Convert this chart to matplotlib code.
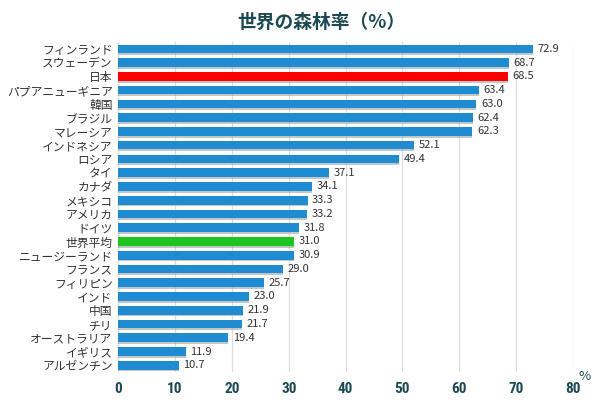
import matplotlib
matplotlib.use("Agg")
import matplotlib.pyplot as plt

plt.rcParams['font.family'] = ['Noto Sans CJK JP', 'DejaVu Sans']

countries = ['フィンランド', 'スウェーデン', '日本', 'パプアニューギニア', '韓国', 'ブラジル',
             'マレーシア', 'インドネシア', 'ロシア', 'タイ', 'カナダ', 'メキシコ', 'アメリカ',
             'ドイツ', '世界平均', 'ニュージーランド', 'フランス', 'フィリピン', 'インド',
             '中国', 'チリ', 'オーストラリア', 'イギリス', 'アルゼンチン']
rates = [72.9, 68.7, 68.5, 63.4, 63.0, 62.4, 62.3, 52.1, 49.4, 37.1, 34.1, 33.3, 33.2,
         31.8, 31.0, 30.9, 29.0, 25.7, 23.0, 21.9, 21.7, 19.4, 11.9, 10.7]
x_ticks = [0, 10, 20, 30, 40, 50, 60, 70, 80]

BLUE = '#1f8bd0'
teal = '#1d4a52'
colors = []
for c in countries:
    if c == '日本':
        colors.append('#ff0000')
    elif c == '世界平均':
        colors.append('#1ec51e')
    else:
        colors.append(BLUE)

fig = plt.figure(figsize=(6, 4.01), dpi=100)
ax = fig.add_axes([0.197, 0.072, 0.758, 0.823])

ypos = list(range(len(countries)))
# soft shadow under each bar
ax.barh([y + 0.14 for y in ypos], rates, height=0.62, color='#8f989d',
        alpha=0.55, zorder=2)
bars = ax.barh(ypos, rates, height=0.62, color=colors, zorder=3)

for y, v in zip(ypos, rates):
    ax.text(v + 0.8, y, f'{v:.1f}', va='center', ha='left', fontsize=8,
            color='#333333', zorder=4)

ax.set_ylim(len(countries) - 0.5, -0.5)
ax.set_xlim(0, 80)
ax.set_yticks(ypos)
ax.set_yticklabels(countries, fontsize=8.5, color='#333333')
ax.set_xticks(x_ticks)
ax.set_xticklabels([str(t) for t in x_ticks], fontsize=11, fontweight='bold',
                   color=teal, family=['Roboto Condensed', 'Roboto', 'DejaVu Sans'])
ax.tick_params(axis='both', length=0)
ax.tick_params(axis='x', pad=7)
ax.tick_params(axis='y', pad=4)

ax.grid(axis='x', color='#dddddd', linewidth=0.9, zorder=0)
ax.set_axisbelow(True)
for s in ax.spines.values():
    s.set_visible(False)

fig.text(0.535, 0.945, '世界の森林率（%）', ha='center', va='center', fontsize=13.5,
         fontweight='bold', color=teal)
fig.text(0.975, 0.06, '%', ha='center', va='center', fontsize=9.5, color=teal)

plt.savefig('out.png', dpi=100)
